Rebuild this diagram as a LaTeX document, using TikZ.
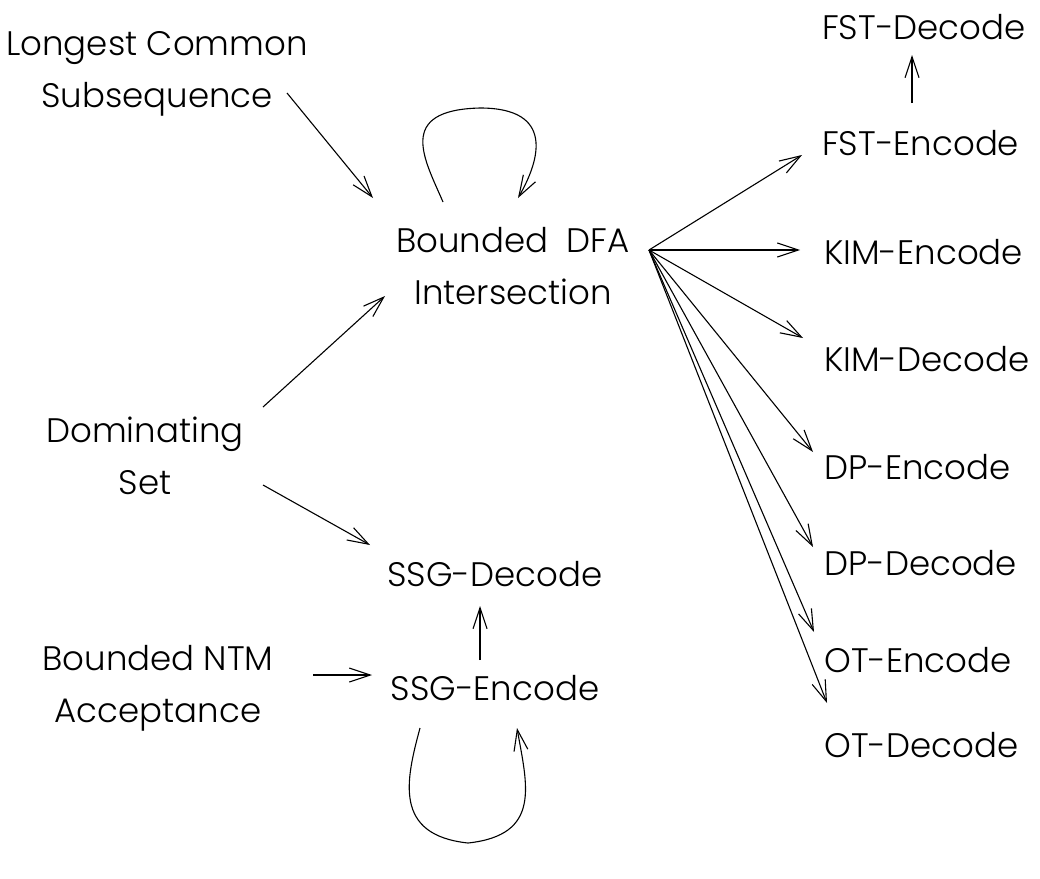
\documentclass[tikz,border=0pt]{standalone}
\usepackage{fontspec}
\setmainfont{Poppins}[UprightFont=* Light]
\usetikzlibrary{arrows.meta,calc}

\tikzset{
  lbl/.style={font=\fontsize{34}{52}\selectfont, inner sep=0pt, align=center},
  rlbl/.style={lbl, anchor=west},
  arr/.style={-{Straight Barb[length=21pt,width=14pt,line width=1.1pt]}, line width=1.1pt},
}

\begin{document}
\begin{tikzpicture}[x=1pt,y=-1pt]
\useasboundingbox (0,0) rectangle (1040,878);

% left and middle nodes
\node[lbl] (lcs)  at (157,74)  {Longest Common\\Subsequence};
\node[lbl] (bdfa) at (513,266) {Bounded\ \ DFA\\Intersection};
\node[lbl] (dom)  at (145,456) {Dominating\\Set};
\node[lbl] (ssgd) at (495,574) {SSG-Decode};
\node[lbl] (ssge) at (495,688) {SSG-Encode};
\node[lbl] (ntm)  at (158,688) {Bounded NTM\\Acceptance};

% right column
\node[rlbl] (fstd) at (822,27)  {FST-Decode};
\node[rlbl] (fste) at (822,143) {FST-Encode};
\node[rlbl] (kime) at (824,252) {KIM-Encode};
\node[rlbl] (kimd) at (824,359) {KIM-Decode};
\node[rlbl] (dpe)  at (824,467) {DP-Encode};
\node[rlbl] (dpd)  at (824,563) {DP-Decode};
\node[rlbl] (ote)  at (824,660) {OT-Encode};
\node[rlbl] (otd)  at (824,745) {OT-Decode};

% fan-out point just right of "DFA"
\coordinate (hub) at ([shift={(136,-16)}]bdfa.center);

% reductions
\draw[arr] ([shift={(130,19)}]lcs.center) -- ([shift={(-140,-68)}]bdfa.center);
\draw[arr] ([shift={(118,-49)}]dom.center) -- ([shift={(-128,30)}]bdfa.center);
\draw[arr] ([shift={(118,29)}]dom.center) -- ([shift={(-125,-29)}]ssgd.center);
\draw[arr] ([shift={(155,-13)}]ntm.center) -- ([shift={(-123,-13)}]ssge.center);
\draw[arr] ([shift={(-15,-28)}]ssge.center) -- ([shift={(-15,32)}]ssgd.center);
\draw[arr] ([shift={(90,-40)}]fste.west) -- ([shift={(90,28)}]fstd.west);

\draw[arr] (hub) -- ([shift={(-20,12)}]fste.west);
\draw[arr] (hub) -- ([shift={(-24,-2)}]kime.west);
\draw[arr] (hub) -- ([shift={(-21,-21)}]kimd.west);
\draw[arr] (hub) -- ([shift={(-11,-15)}]dpe.west);
\draw[arr] (hub) -- ([shift={(-11,-16)}]dpd.west);
\draw[arr] (hub) -- ([shift={(-10,-28)}]ote.west);
\draw[arr] (hub) -- ([shift={(3,-42)}]otd.west);

% self-loops
\draw[arr] ([shift={(-70,-64)}]bdfa.center)
  .. controls +(-18,-42) and +(-85,2) .. ([shift={(-33,-158)}]bdfa.center)
  .. controls +(75,0) and +(22,-38) .. ([shift={(5,-68)}]bdfa.center);
\draw[arr] ([shift={(-75,40)}]ssge.center)
  .. controls +(-14,52) and +(-75,-8) .. ([shift={(-27,155)}]ssge.center)
  .. controls +(74,-8) and +(10,57) .. ([shift={(22,40)}]ssge.center);
\end{tikzpicture}
\end{document}
